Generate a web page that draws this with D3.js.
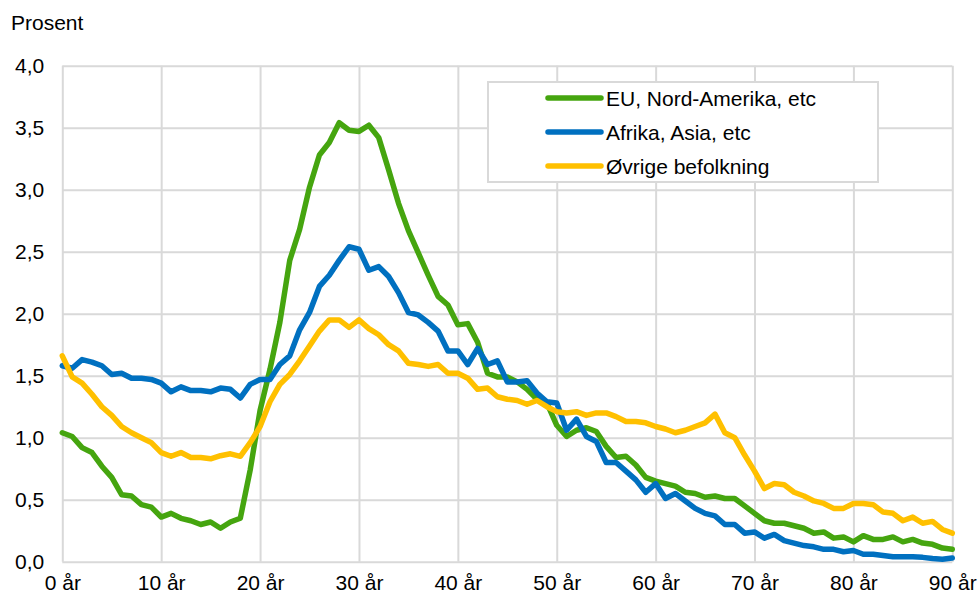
<!DOCTYPE html>
<meta charset="utf-8">
<head>
  <script src="https://d3js.org/d3.v7.min.js"></script>
  <style>
    body { margin: 0; background: #fff; }
    text { font-family: "Liberation Sans", Arial, sans-serif; fill: #000; }
  </style>
</head>
<body>
<div id="line_chart"></div>
<script>

// ages on the x axis (0 to 90 years)
var ages = d3.range(0, 91);

// share of population by age, in percent
var euNordAmerika = [
  1.04, 1.01, 0.92, 0.88, 0.77, 0.68, 0.54, 0.53, 0.46, 0.44,
  0.36, 0.39, 0.35, 0.33, 0.30, 0.32, 0.27, 0.32, 0.35, 0.74,
  1.22, 1.55, 1.93, 2.43, 2.68, 3.02, 3.28, 3.38, 3.54, 3.48,
  3.47, 3.52, 3.42, 3.16, 2.89, 2.67, 2.49, 2.31, 2.14, 2.07,
  1.91, 1.92, 1.77, 1.52, 1.49, 1.49, 1.45, 1.39, 1.31, 1.28,
  1.10, 1.01, 1.06, 1.08, 1.05, 0.93, 0.84, 0.85, 0.78, 0.68,
  0.65, 0.63, 0.61, 0.56, 0.55, 0.52, 0.53, 0.51, 0.51, 0.45,
  0.39, 0.33, 0.31, 0.31, 0.29, 0.27, 0.23, 0.24, 0.19, 0.20,
  0.16, 0.21, 0.18, 0.18, 0.20, 0.16, 0.18, 0.15, 0.14, 0.11, 0.10
];
var afrikaAsia = [
  1.58, 1.56, 1.63, 1.61, 1.58, 1.51, 1.52, 1.48, 1.48, 1.47,
  1.44, 1.37, 1.41, 1.38, 1.38, 1.37, 1.40, 1.39, 1.32, 1.43,
  1.47, 1.47, 1.59, 1.66, 1.87, 2.01, 2.22, 2.31, 2.43, 2.54,
  2.52, 2.35, 2.38, 2.30, 2.17, 2.01, 1.99, 1.93, 1.86, 1.70,
  1.70, 1.59, 1.72, 1.59, 1.62, 1.45, 1.45, 1.46, 1.36, 1.29,
  1.28, 1.06, 1.15, 1.01, 0.97, 0.80, 0.80, 0.73, 0.66, 0.56,
  0.63, 0.51, 0.55, 0.49, 0.43, 0.39, 0.37, 0.30, 0.30, 0.23,
  0.24, 0.19, 0.22, 0.17, 0.15, 0.13, 0.12, 0.10, 0.10, 0.08,
  0.09, 0.06, 0.06, 0.05, 0.04, 0.04, 0.04, 0.035, 0.025, 0.02, 0.03
];
var ovrige = [
  1.66, 1.49, 1.44, 1.35, 1.25, 1.18, 1.09, 1.04, 1.00, 0.96,
  0.88, 0.85, 0.88, 0.84, 0.84, 0.83, 0.855, 0.87, 0.85, 0.96,
  1.09, 1.29, 1.43, 1.51, 1.62, 1.74, 1.86, 1.95, 1.95, 1.89,
  1.95, 1.88, 1.83, 1.75, 1.70, 1.60, 1.59, 1.575, 1.59, 1.52,
  1.52, 1.48, 1.39, 1.40, 1.33, 1.31, 1.30, 1.27, 1.30, 1.25,
  1.21, 1.20, 1.21, 1.18, 1.20, 1.20, 1.17, 1.13, 1.13, 1.12,
  1.09, 1.07, 1.04, 1.06, 1.09, 1.12, 1.19, 1.04, 1.00, 0.86,
  0.73, 0.59, 0.63, 0.62, 0.56, 0.53, 0.49, 0.47, 0.43, 0.43,
  0.47, 0.47, 0.46, 0.40, 0.39, 0.33, 0.36, 0.31, 0.325, 0.26, 0.23
];

var seriesNames = ["EU, Nord-Amerika, etc", "Afrika, Asia, etc", "Øvrige befolkning"];
var seriesValues = [euNordAmerika, afrikaAsia, ovrige];
var xTicks = [0, 10, 20, 30, 40, 50, 60, 70, 80, 90];
var yTicks = [0, 0.5, 1, 1.5, 2, 2.5, 3, 3.5, 4];

var colors = ["#45a50f", "#0070c0", "#ffc000"];

// set the dimensions and margins of the graph
var margin = {top: 65.7, right: 27.7, bottom: 36.3, left: 62.3},
    width = 980 - margin.left - margin.right,
    height = 598 - margin.top - margin.bottom;

var root = d3.select("#line_chart")
  .append("svg")
    .attr("width", 980)
    .attr("height", 598);

var svg = root.append("g")
    .attr("transform", "translate(" + margin.left + "," + margin.top + ")");

var no = d3.formatLocale({decimal: ",", thousands: " ", grouping: [3], currency: ["", " kr"]});

var x = d3.scaleLinear().domain([0, 90]).range([0, width]);
var y = d3.scaleLinear().domain([0, 4]).range([height, 0]);

// horizontal grid + y labels
var yAxis = svg.append("g")
  .call(d3.axisLeft(y).tickValues(yTicks).tickSize(-width).tickPadding(18).tickFormat(no.format(".1f")));
yAxis.select(".domain").remove();
yAxis.selectAll("line").attr("stroke", "#d9d9d9").attr("stroke-width", 2);
yAxis.selectAll("text").attr("font-size", "21px").attr("dy", "0.34em").attr("fill", "#000");

// vertical grid + x labels
var xAxis = svg.append("g")
  .attr("transform", "translate(0," + height + ")")
  .call(d3.axisBottom(x).tickValues(xTicks).tickSize(-height).tickPadding(16).tickFormat(function(d) { return d + " år"; }));
xAxis.select(".domain").remove();
xAxis.selectAll("line").attr("stroke", "#d9d9d9").attr("stroke-width", 2);
xAxis.selectAll("text").attr("font-size", "21px").attr("dy", "0.6em").attr("fill", "#000");

// the lines
var line = d3.line()
  .x(function(d, i) { return x(ages[i]); })
  .y(function(d) { return y(d); });

seriesValues.forEach(function(vals, k) {
  svg.append("path")
    .datum(vals)
    .attr("fill", "none")
    .attr("stroke", colors[k])
    .attr("stroke-width", 5.5)
    .attr("stroke-linejoin", "round")
    .attr("stroke-linecap", "round")
    .attr("d", line);
});

// legend
var legend = root.append("g");
legend.append("rect")
  .attr("x", 488).attr("y", 82)
  .attr("width", 390).attr("height", 100)
  .attr("fill", "#fff")
  .attr("stroke", "#d9d9d9")
  .attr("stroke-width", 2);

seriesNames.forEach(function(name, k) {
  var ly = 98 + k * 34;
  legend.append("line")
    .attr("x1", 548).attr("x2", 601)
    .attr("y1", ly).attr("y2", ly)
    .attr("stroke", colors[k])
    .attr("stroke-width", 5.5)
    .attr("stroke-linecap", "round");
  legend.append("text")
    .attr("x", 606).attr("y", ly + 7.5)
    .attr("font-size", "21px")
    .text(name);
});

// unit label
root.append("text")
  .attr("x", 11).attr("y", 30)
  .attr("font-size", "21px")
  .text("Prosent");

</script>
</body>
